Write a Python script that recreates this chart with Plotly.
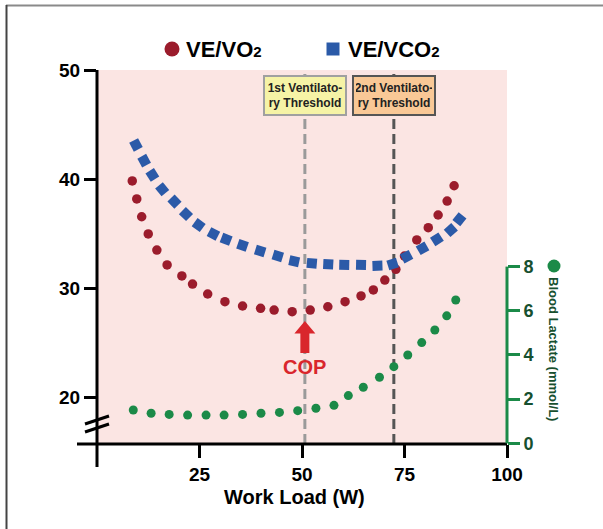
import math
import plotly.graph_objects as go

# ---------------- data ----------------
ve_vo2_x = [8.6, 9.7, 10.9, 12.5, 14.6, 17.1, 20.7, 23.3, 27.0, 31.2, 35.5, 39.9, 43.2, 47.6,
            52.0, 56.3, 60.5, 64.4, 67.4, 70.2, 72.9, 75.0, 78.0, 80.8, 83.2, 85.4, 87.1]
ve_vo2_y = [39.83, 38.18, 36.55, 34.97, 33.50, 32.13, 31.12, 30.38, 29.47, 28.76, 28.37, 28.16, 28.00, 27.85,
            28.00, 28.30, 28.76, 29.29, 29.84, 30.75, 31.73, 32.95, 34.42, 35.55, 36.71, 37.99, 39.39]

ve_vco2_x = [9.5, 11.5, 13.5, 15.9, 18.9, 21.7, 24.8, 28.4, 31.5, 35.5, 39.8, 44.1, 48.1, 52.4,
             56.4, 60.3, 64.4, 68.4, 72.1, 75.5, 79.4, 82.9, 86.3, 88.4]
ve_vco2_y = [43.13, 41.69, 40.38, 39.07, 37.93, 36.80, 35.79, 34.97, 34.48, 33.93, 33.41, 32.95, 32.47, 32.28,
             32.19, 32.13, 32.13, 32.06, 32.22, 32.89, 33.66, 34.48, 35.33, 36.32]

lactate_x = [8.85, 13.2, 17.6, 22.1, 26.6, 31.0, 35.5, 40.0, 44.5, 48.95, 53.4, 57.8,
             61.3, 64.95, 68.9, 72.4, 75.8, 79.2, 82.4, 85.3, 87.5]
lactate_y = [1.51, 1.36, 1.31, 1.28, 1.28, 1.28, 1.31, 1.36, 1.40, 1.48, 1.59, 1.72,
             2.16, 2.54, 2.99, 3.47, 4.00, 4.56, 5.13, 5.77, 6.49]

vt1_x = 50.7
vt2_x = 72.4
cop_x = 50.7
cop_y = 27.0

x_ticks = [25, 50, 75, 100]
y_ticks = [20, 30, 40, 50]
y2_ticks = [0, 2, 4, 6, 8]

# ---------------- styling ----------------
W, H = 603, 529
ML, MR, MT, MB = 97, 96, 70, 85
PW, PH = W - ML - MR, H - MT - MB
X_RANGE = [0, 100]
Y_RANGE = [15.72, 50]
Y2_RANGE = [-0.03, 16.9]

RED = "#9b1c2c"
BLUE = "#2b5aa8"
GREEN = "#1b8a48"
DKGREEN = "#17502f"
PINK = "#fbe5e3"
FONT = "Liberation Sans, Arial, sans-serif"


def px(xp):
    return (xp - ML) / PW


def py(yp):
    return (H - MB - yp) / PH


# marker angles of squares follow the curve direction (in pixel space)
sx = PW / (X_RANGE[1] - X_RANGE[0])
sy = PH / (Y_RANGE[1] - Y_RANGE[0])
angles = []
n = len(ve_vco2_x)
for i in range(n):
    a, b = max(i - 1, 0), min(i + 1, n - 1)
    dx = (ve_vco2_x[b] - ve_vco2_x[a]) * sx
    dy = -(ve_vco2_y[b] - ve_vco2_y[a]) * sy
    angles.append(math.degrees(math.atan2(dy, dx)))

fig = go.Figure()
fig.add_trace(go.Scatter(x=ve_vo2_x, y=ve_vo2_y, mode="markers", name="VE/VO2",
                         marker=dict(color=RED, size=9.5, symbol="circle")))
fig.add_trace(go.Scatter(x=ve_vco2_x, y=ve_vco2_y, mode="markers", name="VE/VCO2",
                         marker=dict(color=BLUE, size=10, symbol="square", angle=angles)))
fig.add_trace(go.Scatter(x=lactate_x, y=lactate_y, mode="markers", name="Blood Lactate",
                         yaxis="y2", marker=dict(color=GREEN, size=9, symbol="circle")))

shapes = []
# threshold dashed lines
shapes.append(dict(type="line", xref="x", yref="paper", x0=vt1_x, x1=vt1_x, y0=0, y1=1,
                   line=dict(color="#9a9a9a", width=3, dash="10px,5px"), layer="below"))
shapes.append(dict(type="line", xref="x", yref="paper", x0=vt2_x, x1=vt2_x, y0=0, y1=1,
                   line=dict(color="#555555", width=3, dash="10px,5px"), layer="below"))
# left axis line (extends below x axis)
shapes.append(dict(type="line", xref="paper", yref="paper", x0=0, x1=0, y0=py(467), y1=1,
                   line=dict(color="black", width=3)))
# x axis line (extends left)
shapes.append(dict(type="line", xref="paper", yref="paper", x0=px(77), x1=1, y0=0, y1=0,
                   line=dict(color="black", width=3)))
# axis break marks
for off in (0, 8):
    shapes.append(dict(type="line", xref="paper", yref="paper",
                       x0=px(85), y0=py(424 + off), x1=px(109), y1=py(416 + off),
                       line=dict(color="black", width=3)))
# green right axis line 0..8
shapes.append(dict(type="line", xref="paper", yref="y2", x0=1, x1=1, y0=0, y1=8,
                   line=dict(color=GREEN, width=3)))
# COP arrow
shapes.append(dict(type="path", xref="x", yref="y", xsizemode="pixel", ysizemode="pixel",
                   xanchor=cop_x, yanchor=cop_y,
                   path="M0,0 L10.5,-12.5 L4.5,-12.5 L4.5,-32 L-4.5,-32 L-4.5,-12.5 L-10.5,-12.5 Z",
                   fillcolor="#d9262c", line=dict(width=0)))
# legend symbols
shapes.append(dict(type="circle", xref="paper", yref="paper", xsizemode="pixel", ysizemode="pixel",
                   xanchor=px(172), yanchor=py(49), x0=-7.5, x1=7.5, y0=-7.5, y1=7.5,
                   fillcolor=RED, line=dict(width=0)))
shapes.append(dict(type="rect", xref="paper", yref="paper", xsizemode="pixel", ysizemode="pixel",
                   xanchor=px(333), yanchor=py(49), x0=-6.5, x1=6.5, y0=-6.5, y1=6.5,
                   fillcolor=BLUE, line=dict(width=0)))
shapes.append(dict(type="circle", xref="paper", yref="paper", xsizemode="pixel", ysizemode="pixel",
                   xanchor=px(554), yanchor=py(266), x0=-6.5, x1=6.5, y0=-6.5, y1=6.5,
                   fillcolor=GREEN, line=dict(width=0)))
# frame lines (top and left)
shapes.append(dict(type="line", xref="paper", yref="paper", x0=px(6), x1=px(603), y0=py(5.5), y1=py(5.5),
                   line=dict(color="#8a8a8a", width=2)))
shapes.append(dict(type="line", xref="paper", yref="paper", x0=px(6.5), x1=px(6.5), y0=py(5), y1=py(529),
                   line=dict(color="#444444", width=2)))

SUB = "<span style='font-size:15px'>2</span>"
annotations = []
annotations.append(dict(xref="paper", yref="paper", x=px(184), y=py(49), xanchor="left", yanchor="middle",
                        text="VE/VO" + SUB, showarrow=False,
                        font=dict(family=FONT, size=22, color="black", weight="bold")))
annotations.append(dict(xref="paper", yref="paper", x=px(346), y=py(49), xanchor="left", yanchor="middle",
                        text="VE/VCO" + SUB, showarrow=False,
                        font=dict(family=FONT, size=22, color="black", weight="bold")))
annotations.append(dict(xref="x", yref="paper", x=vt1_x, y=py(95), xanchor="center", yanchor="middle",
                        text="1st Ventilato-<br>ry Threshold", showarrow=False, align="center",
                        bgcolor="#f6f3a6", bordercolor="#a0a0a0", borderwidth=2, borderpad=2,
                        width=76, height=33,
                        font=dict(family=FONT, size=12, color="#222222", weight="bold")))
annotations.append(dict(xref="x", yref="paper", x=vt2_x, y=py(95), xanchor="center", yanchor="middle",
                        text="2nd Ventilato-<br>ry Threshold", showarrow=False, align="center",
                        bgcolor="#f9c896", bordercolor="#555555", borderwidth=2, borderpad=2,
                        width=76, height=33,
                        font=dict(family=FONT, size=12, color="#222222", weight="bold")))
annotations.append(dict(xref="x", yref="paper", x=cop_x, y=py(367), xanchor="center", yanchor="middle",
                        text="COP", showarrow=False,
                        font=dict(family=FONT, size=20, color="#d9262c", weight="bold")))
annotations.append(dict(xref="paper", yref="paper", x=px(294), y=py(497), xanchor="center", yanchor="middle",
                        text="Work Load (W)", showarrow=False,
                        font=dict(family=FONT, size=20, color="black", weight="bold")))
annotations.append(dict(xref="paper", yref="paper", x=px(554), y=py(349), xanchor="center", yanchor="middle",
                        text="Blood Lactate (mmol/L)", showarrow=False, textangle=90,
                        font=dict(family=FONT, size=13, color=DKGREEN, weight="bold")))

tickfont = dict(family=FONT, size=19, color="black", weight="bold")

fig.update_layout(
    width=W, height=H,
    margin=dict(l=ML, r=MR, t=MT, b=MB),
    paper_bgcolor="white",
    plot_bgcolor=PINK,
    showlegend=False,
    xaxis=dict(range=X_RANGE, tickvals=x_ticks, ticks="outside", ticklen=13, tickwidth=3,
               tickcolor="black", showline=False, showgrid=False, zeroline=False,
               tickfont=tickfont),
    yaxis=dict(range=Y_RANGE, tickvals=y_ticks, ticks="outside", ticklen=12, tickwidth=3,
               tickcolor="black", showline=False, showgrid=False, zeroline=False,
               tickfont=tickfont),
    yaxis2=dict(range=Y2_RANGE, tickvals=y2_ticks, overlaying="y", side="right",
                ticks="outside", ticklen=12, tickwidth=3, tickcolor=GREEN,
                showline=False, showgrid=False, zeroline=False,
                tickfont=dict(family=FONT, size=18, color=DKGREEN, weight="bold")),
    shapes=shapes,
    annotations=annotations,
)

fig.write_html("out.html")
